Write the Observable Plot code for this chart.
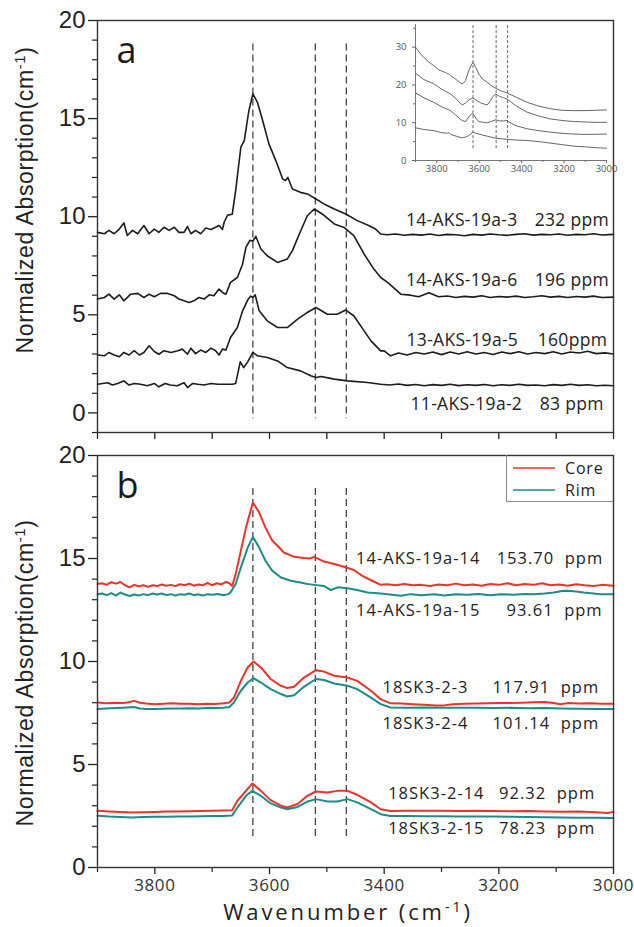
<!DOCTYPE html>
<html>
<head>
<meta charset="utf-8">
<script src="https://cdn.jsdelivr.net/npm/d3@7"></script>
<script src="https://cdn.jsdelivr.net/npm/@observablehq/plot@0.6"></script>
<style>
  html, body { margin: 0; padding: 0; background: #fff; }
  #wrap { position: relative; width: 634px; height: 927px; background: #fff; }
  .abs { position: absolute; }
  .ytitle { position: absolute; white-space: nowrap; font-family: "Liberation Sans", Arial, sans-serif; font-size: 23px; letter-spacing: 0.6px; color: #222; line-height: 24px; transform: translate(-50%, -50%) rotate(-90deg); }
  .xtitle { position: absolute; white-space: nowrap; font-family: "Open Sans", sans-serif; font-size: 22px; letter-spacing: 2.9px; color: #222; line-height: 22px; transform: translateX(-50%); }
  sup { font-size: 0.65em; vertical-align: 0.55em; line-height: 0; }
</style>
</head>
<body>
<div id="wrap">
  <div id="pa" class="abs" style="left:0;top:0"></div>
  <div id="pb" class="abs" style="left:0;top:440px"></div>
  <div id="inset" class="abs" style="left:385px;top:14px"></div>
  <div class="ytitle" style="left:25px;top:200px">Normalized Absorption(cm<sup>-1</sup>)</div>
  <div class="ytitle" style="left:25px;top:673px">Normalized Absorption(cm<sup>-1</sup>)</div>
  <div class="xtitle" style="left:348px;top:900px">Wavenumber (cm<sup>-1</sup>)</div>
  <div id="legend" class="abs" style="left:506px;top:455px;width:107px;height:47px;box-sizing:border-box;border-left:1px solid #8a8a8a;border-bottom:1px solid #8a8a8a;"></div>
</div>
<script>
// ---------------- DATA ----------------
// x axis: wavenumber (cm-1), reversed
const xDomain = [3900, 3000];
const wnTicksAll = [3900, 3800, 3700, 3600, 3500, 3400, 3300, 3200, 3100, 3000];
const wnTicksLabeled = [3800, 3600, 3400, 3200, 3000];
const wnTicksUnlabeled = [3900, 3700, 3500, 3300, 3100];
const yTicksMajor = [0, 5, 10, 15, 20];
const yTicksMinorA = [-1, 1, 2, 3, 4, 6, 7, 8, 9, 11, 12, 13, 14, 16, 17, 18, 19];
const yTicksMinorB = [1, 2, 3, 4, 6, 7, 8, 9, 11, 12, 13, 14, 16, 17, 18, 19];
const insetTicksY = [0, 10, 20, 30];
const insetTicksYMinor = [5, 15, 25, 35];
const insetTicksX = [3800, 3600, 3400, 3200, 3000];
const insetTicksXMinor = [3900, 3700, 3500, 3300, 3100];
const peakLines = [3629, 3520, 3466];

// Panel a series [wavenumber, absorption]
const a_19a3 = [[3900,9.2],[3888,9.13],[3880,9.3],[3871,9.13],[3862,9.37],[3854,9.68],[3848,9.04],[3839,9.3],[3830,9.13],[3819,9.55],[3810,9.13],[3801,9.37],[3793,9.2],[3784,9.46],[3775,9.3],[3766,9.46],[3758,9.2],[3749,9.2],[3743,9.5],[3737,9.13],[3729,9.3],[3720,9.13],[3711,9.42],[3702,9.35],[3694,9.46],[3688,9.55],[3682,9.35],[3679,9.73],[3673,10.08],[3665,10.12],[3659,11.33],[3650,13.54],[3644,13.88],[3636,15.4],[3629,16.26],[3621,15.83],[3612,14.9],[3601,13.71],[3589,12.86],[3577,11.92],[3572,11.84],[3568,12.0],[3560,11.41],[3546,11.24],[3534,11.16],[3519,10.9],[3505,10.65],[3487,10.39],[3467,10.14],[3447,9.8],[3426,9.54],[3415,9.37],[3406,9.12],[3395,9.08],[3380,9.12],[3365,9.05],[3350,9.1],[3335,9.06],[3320,9.12],[3305,9.04],[3290,9.1],[3275,9.08],[3260,9.03],[3245,9.1],[3230,9.06],[3215,9.12],[3200,9.08],[3185,9.05],[3170,9.1],[3155,9.13],[3140,9.06],[3125,9.1],[3110,9.08],[3095,9.12],[3080,9.05],[3065,9.1],[3050,9.08],[3035,9.13],[3020,9.07],[3000,9.1]];
const a_19a6 = [[3900,5.8],[3888,5.88],[3880,6.05],[3871,5.8],[3862,6.02],[3854,5.71],[3842,6.05],[3830,6.09],[3819,5.88],[3810,6.05],[3801,5.92],[3790,6.09],[3778,6.09],[3766,5.97],[3758,5.8],[3749,5.71],[3740,5.63],[3732,5.71],[3723,5.88],[3714,5.8],[3705,6.02],[3697,5.97],[3688,6.31],[3682,6.14],[3676,6.05],[3668,6.65],[3656,6.9],[3647,7.58],[3641,8.45],[3634,8.8],[3629,8.75],[3624,9.0],[3615,8.35],[3604,8.01],[3586,7.67],[3569,7.84],[3560,8.27],[3548,9.12],[3534,10.05],[3522,10.39],[3508,10.14],[3487,9.63],[3470,9.45],[3453,9.03],[3435,8.1],[3418,7.33],[3406,6.9],[3394,6.65],[3371,6.05],[3354,6.0],[3340,5.92],[3322,6.12],[3305,5.92],[3290,5.96],[3275,5.88],[3260,5.94],[3245,5.9],[3230,5.97],[3215,5.88],[3200,5.93],[3185,5.9],[3170,5.95],[3155,5.88],[3140,5.92],[3125,5.97],[3110,5.9],[3095,5.94],[3080,5.88],[3065,5.93],[3050,5.9],[3035,5.95],[3020,5.88],[3000,5.9]];
const a_19a5 = [[3900,2.95],[3888,2.91],[3880,3.08],[3871,2.95],[3862,2.86],[3854,3.08],[3845,2.95],[3836,3.17],[3827,2.95],[3819,3.08],[3810,3.42],[3801,3.13],[3793,2.99],[3784,3.17],[3772,3.08],[3760,3.17],[3752,3.25],[3743,2.99],[3737,3.3],[3729,3.02],[3720,3.2],[3711,3.08],[3702,3.3],[3694,3.17],[3688,2.95],[3682,3.25],[3676,3.2],[3668,3.84],[3656,4.35],[3647,5.2],[3638,5.75],[3633,5.95],[3629,5.88],[3625,6.02],[3618,5.2],[3604,4.69],[3586,4.35],[3569,4.35],[3551,4.78],[3534,5.12],[3519,5.37],[3499,5.03],[3482,5.03],[3467,5.24],[3453,4.95],[3435,4.18],[3423,3.67],[3406,3.16],[3400,3.16],[3389,2.91],[3375,3.05],[3360,2.95],[3345,3.08],[3330,3.0],[3315,3.1],[3300,2.97],[3285,3.1],[3270,3.0],[3255,3.12],[3240,3.0],[3225,3.08],[3210,2.98],[3195,3.1],[3180,3.02],[3165,3.12],[3150,3.0],[3135,3.08],[3120,3.02],[3105,3.12],[3090,3.0],[3075,3.1],[3060,3.05],[3045,3.14],[3030,3.02],[3015,3.06],[3000,3.0]];
const a_19a2 = [[3900,1.46],[3891,1.5],[3882,1.54],[3874,1.42],[3865,1.5],[3854,1.63],[3845,1.42],[3836,1.5],[3825,1.46],[3813,1.38],[3801,1.5],[3793,1.33],[3782,1.5],[3773,1.42],[3761,1.38],[3749,1.54],[3743,1.29],[3734,1.5],[3725,1.46],[3714,1.42],[3702,1.5],[3690,1.46],[3679,1.46],[3665,1.46],[3659,1.5],[3651,2.6],[3645,2.31],[3638,2.6],[3629,3.08],[3621,2.91],[3604,2.82],[3586,2.65],[3569,2.31],[3546,2.14],[3528,1.89],[3519,1.8],[3510,1.85],[3487,1.72],[3464,1.63],[3429,1.55],[3406,1.46],[3390,1.42],[3375,1.47],[3360,1.4],[3345,1.45],[3330,1.38],[3315,1.44],[3300,1.4],[3285,1.46],[3270,1.39],[3255,1.43],[3240,1.4],[3225,1.45],[3210,1.38],[3195,1.43],[3180,1.4],[3165,1.46],[3150,1.4],[3135,1.42],[3120,1.38],[3105,1.44],[3090,1.4],[3075,1.46],[3060,1.4],[3045,1.43],[3030,1.38],[3015,1.41],[3000,1.38]];
const aNames = ["14-AKS-19a-3", "14-AKS-19a-6", "13-AKS-19a-5", "11-AKS-19a-2"];
const aPpm = ["232 ppm", "196 ppm", "160ppm", "83 ppm"];

// Inset (raw spectra)
const in_19a3 = [[3900,30],[3870,27.8],[3840,26.2],[3814,25.1],[3790,24.0],[3760,23.3],[3750,23.0],[3740,22.8],[3735,22.5],[3710,21.5],[3690,20.6],[3680,20.3],[3672,20.6],[3664,21.2],[3649,23.8],[3635,25.5],[3628,26],[3615,24.5],[3602,22.9],[3585,21.6],[3562,20.7],[3540,19.7],[3522,19.1],[3500,18.5],[3470,17.9],[3420,16.6],[3374,15.4],[3320,14.4],[3264,13.7],[3210,13.3],[3155,13.2],[3100,13.2],[3050,13.3],[3000,13.4]];
const in_19a6 = [[3900,23.1],[3860,21.4],[3814,20.3],[3780,19.0],[3735,17.6],[3710,16.4],[3690,15.2],[3680,14.7],[3664,15.2],[3645,16.2],[3628,16.5],[3610,15.8],[3594,15.3],[3575,14.9],[3562,14.7],[3547,15.8],[3535,17.0],[3522,17.6],[3505,17.0],[3485,16.6],[3470,16.3],[3450,15.5],[3429,14.6],[3400,13.6],[3374,12.8],[3320,11.8],[3264,11.0],[3210,10.6],[3155,10.3],[3100,10.2],[3050,10.1],[3000,10.1]];
const in_19a5 = [[3900,17.9],[3860,16.6],[3814,15.4],[3780,14.3],[3735,13.2],[3710,12.0],[3690,11.0],[3680,10.6],[3664,10.3],[3649,11.5],[3635,12.4],[3628,12.3],[3615,11.2],[3602,10.3],[3580,10.1],[3562,10.0],[3540,10.4],[3522,10.8],[3505,10.5],[3485,10.5],[3470,10.6],[3450,9.9],[3429,9.25],[3400,8.8],[3374,8.4],[3320,7.9],[3264,7.5],[3210,7.2],[3155,7.0],[3100,6.9],[3050,6.95],[3000,7.0]];
const in_19a2 = [[3900,8.65],[3860,8.2],[3814,7.9],[3780,7.4],[3750,7.2],[3745,7.5],[3735,6.9],[3700,6.3],[3680,6.0],[3664,6.2],[3649,6.6],[3628,7.5],[3615,7.2],[3602,7.0],[3560,6.4],[3522,5.9],[3470,5.6],[3420,5.4],[3374,5.3],[3320,5.0],[3264,4.6],[3210,4.2],[3155,3.8],[3100,3.6],[3050,3.4],[3000,3.25]];

// Panel b series: core (red) and rim (teal)
const b_core_19a14 = [[3900,13.76],[3892,13.8],[3884,13.72],[3876,13.85],[3868,13.78],[3860,13.86],[3852,13.7],[3844,13.6],[3836,13.72],[3828,13.65],[3820,13.7],[3812,13.62],[3804,13.7],[3796,13.66],[3788,13.74],[3780,13.68],[3772,13.72],[3764,13.66],[3756,13.75],[3748,13.7],[3740,13.78],[3732,13.68],[3724,13.74],[3716,13.7],[3708,13.82],[3700,13.7],[3692,13.8],[3684,13.74],[3676,13.86],[3670,13.8],[3665,13.67],[3659,14.24],[3650,15.37],[3641,16.5],[3629,17.72],[3618,17.23],[3607,16.5],[3595,15.86],[3586,15.62],[3575,15.29],[3557,15.08],[3540,15.02],[3530,15.0],[3522,15.08],[3505,14.85],[3487,14.73],[3466,14.56],[3453,14.44],[3438,14.16],[3421,13.92],[3406,13.72],[3395,13.75],[3380,13.7],[3365,13.76],[3350,13.7],[3335,13.72],[3320,13.66],[3305,13.74],[3290,13.7],[3275,13.78],[3260,13.7],[3245,13.74],[3230,13.68],[3215,13.76],[3200,13.72],[3185,13.8],[3170,13.7],[3155,13.76],[3140,13.72],[3125,13.8],[3110,13.7],[3095,13.74],[3080,13.68],[3065,13.75],[3050,13.7],[3035,13.66],[3020,13.72],[3000,13.68]];
const b_rim_19a15 = [[3900,13.27],[3892,13.3],[3884,13.22],[3876,13.32],[3868,13.2],[3860,13.35],[3852,13.25],[3844,13.18],[3836,13.25],[3828,13.2],[3820,13.27],[3812,13.22],[3804,13.3],[3796,13.25],[3788,13.3],[3780,13.22],[3772,13.27],[3764,13.2],[3756,13.27],[3748,13.24],[3740,13.3],[3732,13.22],[3724,13.26],[3716,13.2],[3708,13.27],[3700,13.24],[3690,13.28],[3680,13.22],[3672,13.27],[3668,13.35],[3659,13.76],[3650,14.56],[3638,15.53],[3629,16.05],[3618,15.53],[3607,14.89],[3595,14.4],[3580,14.08],[3563,13.92],[3546,13.83],[3534,13.76],[3522,13.72],[3505,13.67],[3493,13.47],[3481,13.6],[3464,13.56],[3447,13.47],[3429,13.35],[3406,13.3],[3390,13.25],[3371,13.19],[3354,13.27],[3335,13.22],[3313,13.27],[3295,13.2],[3275,13.26],[3255,13.24],[3235,13.28],[3215,13.22],[3197,13.27],[3175,13.24],[3155,13.28],[3139,13.27],[3120,13.3],[3104,13.35],[3090,13.42],[3081,13.43],[3065,13.4],[3052,13.35],[3035,13.3],[3023,13.27],[3000,13.27]];
const b_core_sk3 = [[3900,8.01],[3885,7.97],[3870,8.0],[3855,7.98],[3846,8.02],[3836,8.09],[3826,8.0],[3815,7.96],[3800,7.93],[3785,7.95],[3770,7.97],[3755,7.95],[3740,7.95],[3725,7.93],[3710,7.95],[3695,7.94],[3680,7.97],[3670,8.01],[3662,8.25],[3650,9.06],[3638,9.71],[3628,10.0],[3615,9.71],[3598,9.15],[3580,8.82],[3569,8.71],[3557,8.77],[3540,9.22],[3519,9.58],[3505,9.51],[3487,9.31],[3464,9.22],[3447,9.06],[3423,8.58],[3406,8.17],[3389,7.97],[3370,7.96],[3350,7.93],[3330,7.9],[3310,7.87],[3296,7.87],[3280,7.92],[3260,7.95],[3240,7.96],[3220,7.97],[3200,7.99],[3180,7.99],[3160,8.0],[3140,8.02],[3120,8.03],[3105,7.99],[3093,7.92],[3080,7.98],[3060,7.96],[3040,7.97],[3020,7.95],[3000,7.95]];
const b_rim_sk4 = [[3900,7.69],[3885,7.72],[3870,7.74],[3855,7.76],[3836,7.79],[3826,7.72],[3815,7.69],[3800,7.7],[3785,7.71],[3770,7.72],[3755,7.72],[3740,7.73],[3725,7.72],[3710,7.74],[3695,7.74],[3680,7.76],[3670,7.79],[3662,8.01],[3650,8.58],[3638,8.98],[3628,9.19],[3615,8.98],[3598,8.66],[3580,8.42],[3569,8.3],[3557,8.36],[3540,8.77],[3519,9.15],[3505,9.1],[3487,8.93],[3464,8.82],[3447,8.66],[3423,8.25],[3406,7.93],[3389,7.77],[3360,7.76],[3330,7.77],[3300,7.75],[3270,7.76],[3240,7.75],[3210,7.74],[3180,7.75],[3150,7.73],[3120,7.74],[3090,7.72],[3060,7.71],[3030,7.7],[3000,7.69]];
const b_core_sk14 = [[3900,2.75],[3880,2.72],[3860,2.7],[3840,2.67],[3820,2.68],[3800,2.7],[3780,2.72],[3760,2.72],[3740,2.73],[3720,2.74],[3700,2.75],[3680,2.77],[3665,2.78],[3656,3.24],[3641,3.72],[3630,4.08],[3615,3.72],[3598,3.27],[3580,3.0],[3569,2.91],[3551,3.08],[3534,3.48],[3519,3.69],[3499,3.64],[3482,3.72],[3464,3.72],[3447,3.53],[3423,3.16],[3406,2.83],[3389,2.74],[3360,2.75],[3330,2.76],[3300,2.75],[3270,2.74],[3240,2.75],[3210,2.74],[3180,2.73],[3150,2.74],[3120,2.72],[3090,2.71],[3060,2.72],[3030,2.68],[3010,2.65],[3000,2.7]];
const b_rim_sk15 = [[3900,2.51],[3880,2.47],[3860,2.45],[3840,2.43],[3820,2.45],[3800,2.46],[3780,2.46],[3760,2.47],[3740,2.48],[3720,2.49],[3700,2.5],[3680,2.5],[3665,2.53],[3656,2.91],[3641,3.48],[3630,3.72],[3615,3.48],[3598,3.11],[3580,2.91],[3569,2.83],[3551,2.94],[3534,3.2],[3519,3.32],[3499,3.2],[3482,3.2],[3464,3.32],[3447,3.16],[3423,2.83],[3406,2.59],[3389,2.5],[3360,2.5],[3330,2.49],[3300,2.49],[3270,2.48],[3240,2.47],[3210,2.47],[3180,2.46],[3150,2.45],[3120,2.44],[3090,2.43],[3060,2.42],[3030,2.41],[3000,2.4]];
const bNames = ["14-AKS-19a-14", "14-AKS-19a-15", "18SK3-2-3", "18SK3-2-4", "18SK3-2-14", "18SK3-2-15"];
const bPpm = ["153.70  ppm", "93.61  ppm", "117.91  ppm", "101.14  ppm", "92.32  ppm", "78.23  ppm"];
const legendLabels = ["Core", "Rim"];

// ---------------- LAYOUT (label anchors in data units) ----------------
const aLabelPos = [[3362, 3008, 9.8], [3362, 3008, 6.73], [3361, 3011, 3.67], [3354, 3017, 0.44]];
const bLabelPos = [[3449, 3018, 15.0], [3449, 3019, 12.46], [3403, 3025, 8.71], [3403, 3025, 6.96], [3393, 3032, 3.56], [3393, 3032, 1.86]];

const RED = "#e8342b", TEAL = "#1c8c88", INK = "#1c1c1c";
const fmtInt = d => String(d);
const rows = pts => pts.map(([wn, v]) => ({wn, v}));
const ppmStyle = {fontFamily: "Open Sans", fill: "#222", lineAnchor: "middle"};

// ---------------- PANEL A ----------------
const aSeries = [a_19a3, a_19a6, a_19a5, a_19a2];
const aLabelRows = aNames.map((n, i) => ({name: n, ppm: aPpm[i], x1: aLabelPos[i][0], x2: aLabelPos[i][1], y: aLabelPos[i][2]}));
const plotA = Plot.plot({
  width: 634, height: 440,
  marginLeft: 97, marginRight: 21, marginTop: 20, marginBottom: 8,
  style: {background: "transparent", color: "#222", fontFamily: "Open Sans", overflow: "visible"},
  x: {domain: xDomain, label: null},
  y: {domain: [-1, 20], label: null},
  marks: [
    Plot.axisY({ticks: yTicksMajor, tickSize: 9, tickPadding: 3, fontSize: 24, fontFamily: "Liberation Sans", tickFormat: fmtInt, label: null, strokeWidth: 1.3}),
    Plot.axisY({ticks: yTicksMinorA, tickSize: 5, tickFormat: () => "", label: null, strokeWidth: 1.2}),
    Plot.axisX({ticks: wnTicksAll, tickSize: 7, tickFormat: () => "", label: null, strokeWidth: 1.3}),
    Plot.ruleX(peakLines, {x: d => d, y1: 18.8, y2: -0.3, stroke: "#444", strokeWidth: 1.3, strokeDasharray: "7,4"}),
    ...aSeries.map(s => Plot.line(rows(s), {x: "wn", y: "v", stroke: INK, strokeWidth: 1.6, curve: "linear"})),
    Plot.text(aLabelRows, {x: "x1", y: "y", text: "name", textAnchor: "start", fontSize: 17.5, ...ppmStyle}),
    Plot.text(aLabelRows, {x: "x2", y: "y", text: "ppm", textAnchor: "end", fontSize: 17.5, ...ppmStyle}),
    Plot.text(["a"], {frameAnchor: "top-left", dx: 19, dy: 17, fontSize: 36, fontFamily: "Open Sans", textAnchor: "start", lineAnchor: "top", fill: "#1a1a1a"}),
    Plot.frame({stroke: "#333", strokeWidth: 1.4})
  ]
});
document.getElementById("pa").appendChild(plotA);

// ---------------- INSET ----------------
const inSeries = [in_19a3, in_19a6, in_19a5, in_19a2];
const plotIn = Plot.plot({
  width: 229, height: 162,
  marginLeft: 30, marginRight: 8, marginTop: 10, marginBottom: 16,
  style: {background: "transparent", color: "#666", fontFamily: "Open Sans", overflow: "visible"},
  x: {domain: xDomain, label: null},
  y: {domain: [0, 36], label: null},
  marks: [
    Plot.axisY({ticks: insetTicksY, tickSize: 3, tickPadding: 6, fontSize: 9.5, tickFormat: fmtInt, label: null, fill: "#555"}),
    Plot.axisY({ticks: insetTicksYMinor, tickSize: 2, tickFormat: () => "", label: null}),
    Plot.axisX({ticks: insetTicksX, tickSize: 3, tickPadding: 2, fontSize: 9.5, tickFormat: fmtInt, label: null, fill: "#555"}),
    Plot.axisX({ticks: insetTicksXMinor, tickSize: 2, tickFormat: () => "", label: null}),
    Plot.ruleX([xDomain[0]], {y1: 0, y2: 36, stroke: "#777", strokeWidth: 1}),
    Plot.ruleY([0], {stroke: "#777", strokeWidth: 1}),
    Plot.ruleX(peakLines, {x: d => d, y1: 35.7, y2: 2.6, stroke: "#666", strokeWidth: 1, strokeDasharray: "3,2"}),
    ...inSeries.map(s => Plot.line(rows(s), {x: "wn", y: "v", stroke: "#555", strokeWidth: 0.9}))
  ]
});
document.getElementById("inset").appendChild(plotIn);

// ---------------- PANEL B ----------------
const bCore = [b_core_19a14, b_core_sk3, b_core_sk14];
const bRim = [b_rim_19a15, b_rim_sk4, b_rim_sk15];
const bLabelRows = bNames.map((n, i) => ({name: n, ppm: bPpm[i], x1: bLabelPos[i][0], x2: bLabelPos[i][1], y: bLabelPos[i][2]}));
const plotB = Plot.plot({
  width: 634, height: 487,
  marginLeft: 97, marginRight: 21, marginTop: 15, marginBottom: 60,
  style: {background: "transparent", color: "#222", fontFamily: "Open Sans", overflow: "visible"},
  x: {domain: xDomain, label: null},
  y: {domain: [0, 20], label: null},
  marks: [
    Plot.axisY({ticks: yTicksMajor, tickSize: 9, tickPadding: 3, fontSize: 24, fontFamily: "Liberation Sans", tickFormat: fmtInt, label: null, strokeWidth: 1.3}),
    Plot.axisY({ticks: yTicksMinorB, tickSize: 5, tickFormat: () => "", label: null, strokeWidth: 1.2}),
    Plot.axisX({ticks: wnTicksLabeled, tickSize: 7, tickPadding: 4, fontSize: 17, fontFamily: "Open Sans", tickFormat: fmtInt, label: null, strokeWidth: 1.3, fill: "#333"}),
    Plot.axisX({ticks: wnTicksUnlabeled, tickSize: 5, tickFormat: () => "", label: null, strokeWidth: 1.2}),
    Plot.ruleX(peakLines, {x: d => d, y1: 18.4, y2: 1.46, stroke: "#444", strokeWidth: 1.3, strokeDasharray: "7,4"}),
    ...bRim.map(s => Plot.line(rows(s), {x: "wn", y: "v", stroke: TEAL, strokeWidth: 2})),
    ...bCore.map(s => Plot.line(rows(s), {x: "wn", y: "v", stroke: RED, strokeWidth: 2})),
    Plot.text(bLabelRows, {x: "x1", y: "y", text: "name", textAnchor: "start", fontSize: 16.5, ...ppmStyle}),
    Plot.text(bLabelRows, {x: "x2", y: "y", text: "ppm", textAnchor: "end", fontSize: 16.5, ...ppmStyle}),
    Plot.text(["b"], {frameAnchor: "top-left", dx: 19, dy: 17, fontSize: 36, fontFamily: "Open Sans", textAnchor: "start", lineAnchor: "top", fill: "#1a1a1a"}),
    Plot.frame({stroke: "#333", strokeWidth: 1.4})
  ]
});
document.getElementById("pb").appendChild(plotB);
// letter spacing on sample labels and tick labels
plotB.querySelectorAll("text").forEach(t => {
  if (bNames.includes(t.textContent) || bPpm.includes(t.textContent)) { t.setAttribute("letter-spacing", "1"); t.style.whiteSpace = "pre"; }
  if (wnTicksLabeled.map(String).includes(t.textContent)) t.setAttribute("letter-spacing", "0.6");
});
plotA.querySelectorAll("text").forEach(t => {
  if (aNames.includes(t.textContent) || aPpm.includes(t.textContent)) t.setAttribute("letter-spacing", "0.3");
});

// ---------------- LEGEND ----------------
const legColors = [RED, TEAL];
const ns = "http://www.w3.org/2000/svg";
const lsvg = document.createElementNS(ns, "svg");
lsvg.setAttribute("width", 106); lsvg.setAttribute("height", 46);
legendLabels.forEach((lab, i) => {
  const y = 13 + i * 22;
  const ln = document.createElementNS(ns, "line");
  ln.setAttribute("x1", 6); ln.setAttribute("x2", 48); ln.setAttribute("y1", y); ln.setAttribute("y2", y);
  ln.setAttribute("stroke", legColors[i]); ln.setAttribute("stroke-width", 1.6);
  lsvg.appendChild(ln);
  const tx = document.createElementNS(ns, "text");
  tx.setAttribute("x", 58); tx.setAttribute("y", y + 6);
  tx.setAttribute("font-family", "Open Sans"); tx.setAttribute("font-size", 16);
  tx.setAttribute("letter-spacing", "0.8"); tx.setAttribute("fill", "#222");
  tx.textContent = lab;
  lsvg.appendChild(tx);
});
document.getElementById("legend").appendChild(lsvg);
</script>
</body>
</html>
